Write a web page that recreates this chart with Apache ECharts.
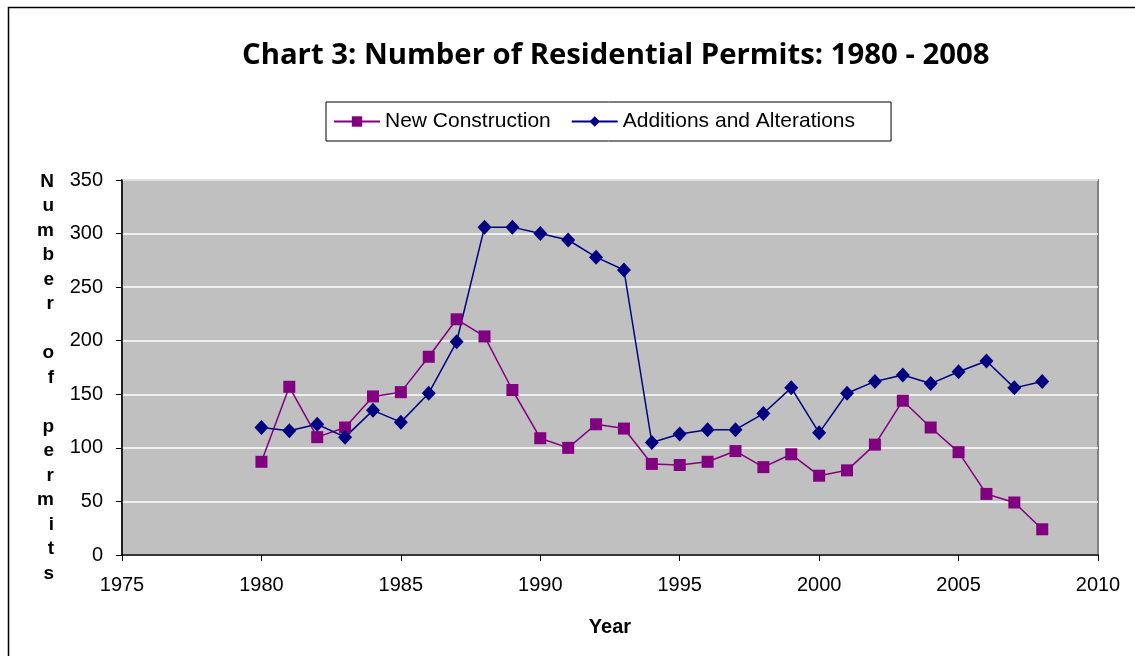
<!DOCTYPE html>
<html>
<head>
<meta charset="utf-8">
<script src="https://cdn.jsdelivr.net/npm/echarts@6/dist/echarts.min.js"></script>
<style>
  html, body { margin: 0; padding: 0; background: #fff; }
  #main { width: 1135px; height: 656px; }
</style>
</head>
<body>
<div id="main"></div>
<script>
// data
var years = [1980, 1981, 1982, 1983, 1984, 1985, 1986, 1987, 1988, 1989,
             1990, 1991, 1992, 1993, 1994, 1995, 1996, 1997, 1998, 1999,
             2000, 2001, 2002, 2003, 2004, 2005, 2006, 2007, 2008];
var newConstruction = [87, 157, 110, 119, 148, 152, 185, 220, 204, 154,
                       109, 100, 122, 118, 85, 84, 87, 97, 82, 94,
                       74, 79, 103, 144, 119, 96, 57, 49, 24];
var additions = [119, 116, 122, 110, 135, 124, 151, 199, 306, 306,
                 300, 294, 278, 266, 105, 113, 117, 117, 132, 156,
                 114, 151, 162, 168, 160, 171, 181, 156, 162];
var yAxisTitle = "Number of permits";

function pairs(vals) {
  return years.map(function (y, i) { return [y, vals[i]]; });
}

var myChart = echarts.init(document.getElementById("main"));
var option = {
  backgroundColor: "#fff",
  animation: false,
  title: {
    text: "Chart 3: Number of Residential Permits: 1980 - 2008",
    left: 237,
    top: 36,
    textStyle: {
      fontFamily: "Open Sans",
      fontWeight: "bold",
      fontSize: 29.3,
      color: "#000"
    }
  },
  legend: {
    left: 326,
    top: 102,
    padding: [9, 36, 9, 7],
    borderColor: "#000",
    borderWidth: 1,
    itemWidth: 46,
    itemHeight: 13,
    itemGap: 20,
    textStyle: { fontFamily: "Liberation Sans", fontSize: 21, color: "#000" },
    data: ["New Construction", "Additions and Alterations"]
  },
  grid: {
    left: 122,
    top: 180,
    right: 37,
    bottom: 101,
    show: true,
    backgroundColor: "#C0C0C0",
    borderColor: "#808080",
    borderWidth: 2
  },
  xAxis: {
    type: "value",
    min: 1975,
    max: 2010,
    interval: 5,
    name: "Year",
    nameLocation: "middle",
    nameGap: 62,
    nameTextStyle: { fontFamily: "Liberation Sans", fontWeight: "bold", fontSize: 20, color: "#000" },
    axisLine: { lineStyle: { color: "#000", width: 1.5 } },
    axisTick: { length: 6, lineStyle: { color: "#000" } },
    axisLabel: {
      fontFamily: "Liberation Sans", fontSize: 20, color: "#000", margin: 20,
      formatter: function (v) { return String(v); }
    },
    splitLine: { show: false }
  },
  yAxis: {
    type: "value",
    min: 0,
    max: 350,
    interval: 50,
    // letters stacked one per line; the empty first line pushes the block down a little
    name: "{g|}\n" + yAxisTitle.split("").join("\n"),
    nameLocation: "middle",
    nameRotate: 0,
    nameGap: 68,
    nameTextStyle: {
      fontFamily: "Liberation Sans",
      fontWeight: "bold",
      fontSize: 19,
      color: "#000",
      lineHeight: 24.5,
      rich: { g: { height: 20, lineHeight: 20, fontSize: 1 } }
    },
    axisLine: { show: true, lineStyle: { color: "#000", width: 1.5 } },
    axisTick: { show: true, length: 6, lineStyle: { color: "#000" } },
    axisLabel: { fontFamily: "Liberation Sans", fontSize: 20, color: "#000", margin: 19 },
    splitLine: { lineStyle: { color: "#fff", width: 1.5 } }
  },
  graphic: [{
    type: "rect",
    shape: { x: 8.5, y: 7.5, width: 1300, height: 800 },
    style: { fill: "none", stroke: "#000", lineWidth: 1.5 },
    silent: true
  }],
  series: [
    {
      name: "New Construction",
      type: "line",
      data: pairs(newConstruction),
      color: "#800080",
      symbol: "rect",
      symbolSize: 12,
      lineStyle: { width: 1.5, color: "#800080" },
      itemStyle: { color: "#800080" }
    },
    {
      name: "Additions and Alterations",
      type: "line",
      data: pairs(additions),
      color: "#000080",
      symbol: "diamond",
      symbolSize: [14, 15],
      lineStyle: { width: 1.5, color: "#000080" },
      itemStyle: { color: "#000080" }
    }
  ]
};
myChart.setOption(option);
</script>
</body>
</html>
